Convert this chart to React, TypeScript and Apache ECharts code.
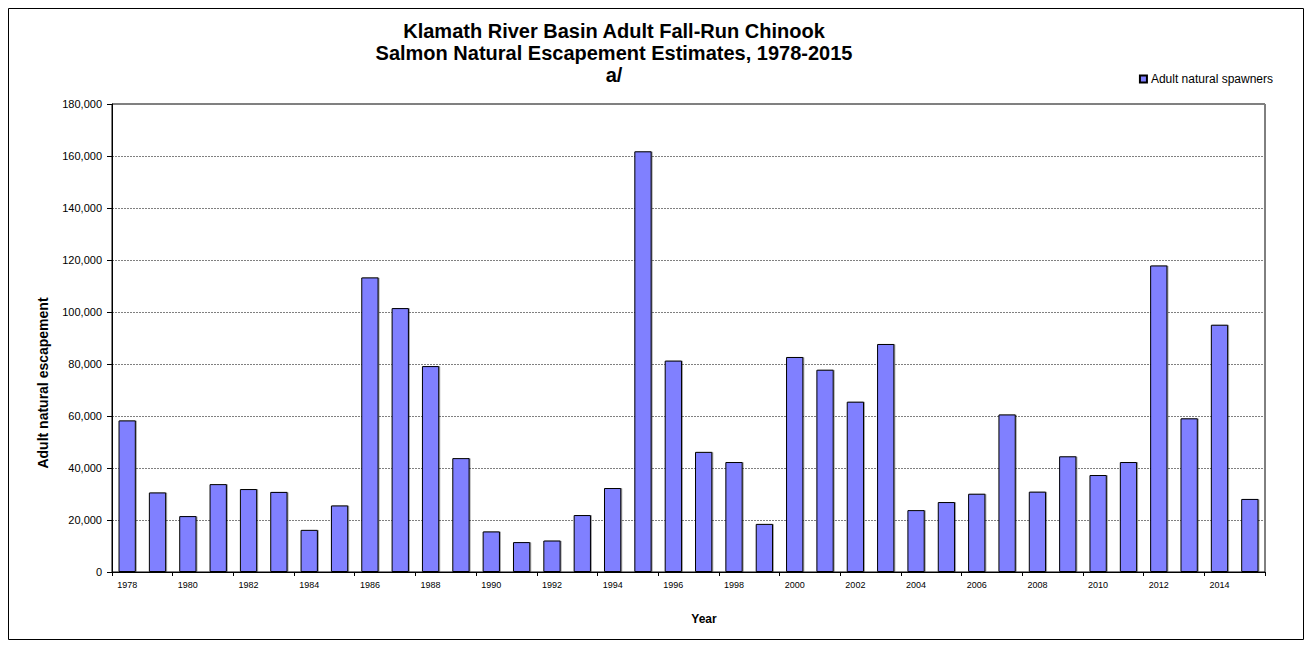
import React, { useEffect, useRef } from "react";
import * as echarts from "echarts";

const years = [
  "1978", "1979", "1980", "1981", "1982", "1983", "1984", "1985", "1986", "1987",
  "1988", "1989", "1990", "1991", "1992", "1993", "1994", "1995", "1996", "1997",
  "1998", "1999", "2000", "2001", "2002", "2003", "2004", "2005", "2006", "2007",
  "2008", "2009", "2010", "2011", "2012", "2013", "2014", "2015",
];
const spawners = [
  58300, 30600, 21500, 33800, 31900, 30800, 16200, 25600, 113300, 101500,
  79200, 43800, 15600, 11500, 12100, 21900, 32300, 161800, 81300, 46200,
  42300, 18500, 82700, 77800, 65500, 87700, 23800, 26900, 30100, 60600,
  30900, 44500, 37300, 42300, 117900, 59100, 95100, 28100,
];
const titleLines = [
  "Klamath River Basin Adult Fall-Run Chinook",
  "Salmon Natural Escapement Estimates, 1978-2015",
  "a/",
];
const seriesName = "Adult natural spawners";
const yAxisTitle = "Adult natural escapement";
const xAxisTitle = "Year";

const FONT = "Liberation Sans, Arial, sans-serif";

export default function App() {
  const ref = useRef<HTMLDivElement>(null);
  useEffect(() => {
    if (!ref.current) return;
    const chart = echarts.init(ref.current, undefined, { renderer: "svg" });
    chart.setOption({
      animation: false,
      backgroundColor: "#fff",
      textStyle: { fontFamily: FONT },
      title: {
        text: titleLines.join("\n"),
        left: 609,
        textAlign: "center",
        top: 15,
        textStyle: {
          fontSize: 20,
          fontWeight: "bold",
          color: "#000",
          lineHeight: 22,
          fontFamily: FONT,
        },
      },
      legend: {
        data: [seriesName],
        right: 39,
        top: 73,
        padding: 0,
        itemWidth: 7,
        itemHeight: 7,
        itemGap: 4,
        icon: "rect",
        textStyle: { fontSize: 12, color: "#000", padding: [0, 0, 0, -1] },
      },
      graphic: [
        {
          type: "rect",
          shape: { x: 8.5, y: 8.5, width: 1295, height: 631 },
          style: { fill: "none", stroke: "#000", lineWidth: 1 },
          silent: true,
        },
        {
          type: "text",
          x: 43,
          y: 383,
          rotation: Math.PI / 2,
          style: {
            text: yAxisTitle,
            fontSize: 14,
            fontWeight: "bold",
            fill: "#000",
            fontFamily: FONT,
            align: "center",
            verticalAlign: "middle",
          },
          silent: true,
        },
        {
          type: "text",
          x: 704,
          y: 619,
          style: {
            text: xAxisTitle,
            fontSize: 12,
            fontWeight: "bold",
            fill: "#000",
            fontFamily: FONT,
            align: "center",
            verticalAlign: "middle",
          },
          silent: true,
        },
      ],
      grid: {
        left: 112,
        right: 47,
        top: 104,
        bottom: 76,
        show: true,
        borderColor: "#000",
        borderWidth: 1,
      },
      xAxis: {
        type: "category",
        data: years,
        axisLine: { lineStyle: { color: "#000", width: 1 } },
        axisTick: { show: true, alignWithLabel: false, length: 4, lineStyle: { color: "#000" } },
        axisLabel: { interval: 1, fontSize: 9, color: "#000", margin: 8 },
        splitLine: { show: false },
      },
      yAxis: {
        type: "value",
        min: 0,
        max: 180000,
        interval: 20000,
        axisLine: { show: true, lineStyle: { color: "#000", width: 1 } },
        axisTick: { show: true, length: 5, inside: false, lineStyle: { color: "#000" } },
        axisLabel: {
          fontSize: 11,
          color: "#000",
          margin: 10,
          formatter: (v: number) => v.toLocaleString("en-US"),
        },
        splitLine: { show: true, lineStyle: { color: "#808080", type: [2, 1], width: 1 } },
      },
      series: [
        {
          name: seriesName,
          type: "bar",
          data: spawners,
          barCategoryGap: "43%",
          itemStyle: {
            color: "#8080FF",
            borderColor: "#000",
            borderWidth: 1,
            shadowColor: "rgba(0,0,0,0.35)",
            shadowOffsetX: 1,
            shadowOffsetY: 0,
            shadowBlur: 0,
          },
        },
      ],
    });
    return () => chart.dispose();
  }, []);
  return (
    <div
      ref={ref}
      style={{ position: "absolute", left: 0, top: 0, width: 1312, height: 648 }}
    />
  );
}
